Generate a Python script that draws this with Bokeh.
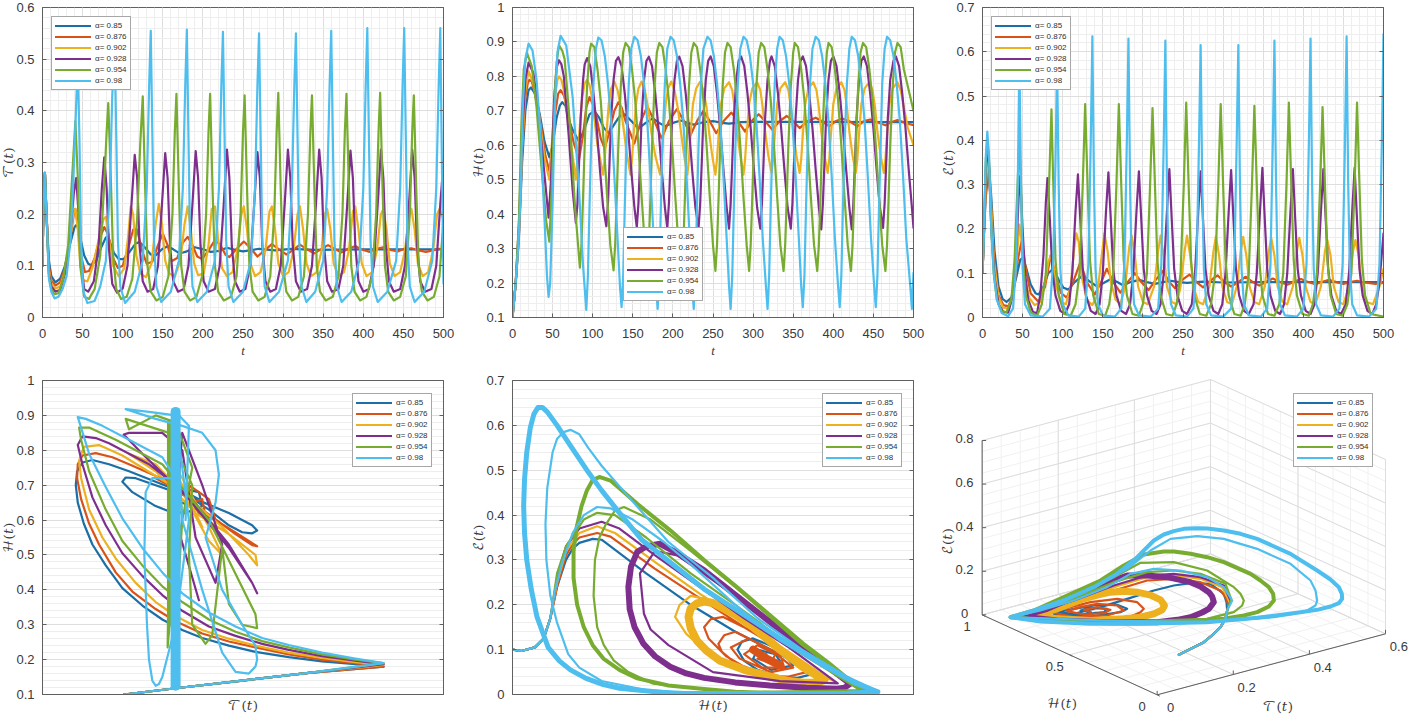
from bokeh.plotting import figure
from bokeh.layouts import column, row
from bokeh.models import FixedTicker, Legend, LegendItem, LinearAxis, Range1d
from bokeh.core.properties import value
from bokeh.embed import file_html
from bokeh.resources import INLINE
import numpy as np

alphas = ["α= 0.85", "α= 0.876", "α= 0.902", "α= 0.928", "α= 0.954", "α= 0.98"]
colors = ["#1b6fa6", "#d95319", "#edb120", "#7e2f8e", "#77ac30", "#4dbeee"]
t_ticks = [0, 50, 100, 150, 200, 250, 300, 350, 400, 450, 500]
T_ticks = [0, 0.1, 0.2, 0.3, 0.4, 0.5, 0.6]
H_ticks = [0.1, 0.2, 0.3, 0.4, 0.5, 0.6, 0.7, 0.8, 0.9, 1]
E_ticks = [0, 0.1, 0.2, 0.3, 0.4, 0.5, 0.6, 0.7]

T_start = [(0,.1),(1,.2),(3,.28),(5,.2)]
T_85 = T_start+[(8,.11),(11,.08),(16,.068),(22,.075),(28,.1),(34,.14),(40,.175),(43,.18),(47,.155),(52,.12),(57,.104),(61,.101),(67,.11),(73,.135),(79,.155),(83,.15),(89,.125),(95,.113),(101,.113),(109,.128),(116,.143),(121,.146),(128,.135),(135,.122),(141,.12),(149,.132),(156,.138),(163,.132),(171,.124),(180,.128),(190,.136),(200,.132),(210,.127),(220,.129),(230,.135),(240,.131),(250,.128),(270,.133),(290,.13),(310,.133),(340,.131),(400,.132),(500,.132)]
T_876 = T_start+[(8,.1),(11,.072),(16,.062),(22,.068),(28,.095),(34,.145),(39,.2),(41,.21),(44,.18),(48,.12),(53,.088),(58,.09),(65,.115),(72,.155),(77,.175),(82,.16),(88,.115),(94,.096),(100,.1),(107,.135),(113,.17),(118,.17),(124,.13),(130,.104),(137,.108),(144,.14),(150,.162),(156,.14),(161,.109),(168,.115),(175,.145),(181,.156),(187,.14),(193,.118),(199,.113),(207,.13),(215,.15),(222,.14),(228,.122),(233,.117),(242,.133),(251,.147),(259,.135),(268,.118),(277,.13),(286,.142),(295,.132),(304,.122),(312,.13),(321,.141),(330,.132),(339,.124),(347,.132),(356,.14),(365,.132),(373,.126),(381,.133),(390,.138),(399,.131),(408,.127),(416,.133),(425,.136),(434,.131),(443,.128),(451,.133),(460,.134),(469,.13),(478,.127),(487,.13),(495,.133),(500,.131)]
T_902 = T_start+[(8,.09),(11,.066),(16,.056),(22,.06),(28,.09),(34,.15),(39,.205),(41,.21),(44,.17),(47,.105),(51,.072),(56,.07),(63,.1),(70,.15),(76,.19),(79,.195),(83,.15),(88,.1),(95,.08),(102,.095),(107,.16),(110,.215),(113,.2),(117,.12),(122,.085),(129,.078),(136,.105),(141,.18),(145,.22),(149,.18),(153,.11),(158,.085),(165,.08),(172,.11),(177,.18),(181,.215),(185,.17),(189,.105),(194,.082),(201,.085),(207,.14),(211,.21),(215,.215),(219,.15),(224,.095),(230,.08),(237,.088),(243,.13),(248,.2),(251,.215),(255,.17),(259,.105),(265,.08),(272,.088),(278,.13),(283,.205),(286,.215),(290,.17),(294,.105),(300,.08),(307,.088),(313,.13),(318,.2),(321,.215),(325,.17),(329,.105),(335,.08),(342,.088),(348,.13),(352,.2),(355,.21),(359,.17),(363,.105),(369,.08),(376,.088),(382,.13),(387,.205),(390,.215),(394,.17),(398,.105),(404,.08),(411,.088),(417,.13),(422,.2),(425,.21),(429,.17),(433,.105),(439,.08),(446,.088),(452,.13),(457,.2),(460,.21),(464,.17),(468,.105),(474,.08),(481,.088),(487,.13),(492,.2),(495,.21),(500,.19)]
T_928 = T_start+[(8,.085),(11,.06),(16,.05),(22,.053),(28,.085),(34,.15),(39,.24),(42,.27),(45,.2),(48,.11),(52,.055),(57,.05),(64,.07),(70,.14),(74,.25),(77,.31),(80,.25),(83,.13),(87,.065),(93,.048),(100,.056),(106,.1),(111,.22),(115,.315),(118,.27),(121,.14),(125,.07),(131,.05),(138,.055),(144,.1),(149,.22),(153,.318),(156,.27),(159,.14),(163,.07),(169,.05),(176,.055),(182,.1),(187,.22),(191,.322),(194,.27),(197,.14),(201,.07),(207,.05),(215,.055),(221,.1),(226,.22),(230,.325),(233,.27),(236,.14),(240,.07),(246,.05),(253,.055),(259,.1),(264,.22),(268,.32),(271,.27),(274,.14),(278,.07),(284,.05),(291,.055),(297,.1),(302,.22),(306,.325),(309,.27),(312,.14),(316,.07),(322,.05),(330,.055),(336,.1),(341,.22),(345,.325),(348,.27),(351,.14),(355,.07),(361,.05),(369,.055),(375,.1),(380,.22),(384,.323),(387,.27),(390,.14),(394,.07),(400,.05),(407,.055),(413,.1),(418,.22),(422,.325),(425,.27),(428,.14),(432,.07),(438,.05),(446,.055),(452,.1),(457,.22),(461,.325),(464,.27),(467,.14),(471,.07),(477,.05),(485,.055),(491,.1),(496,.22),(500,.3)]
T_954 = T_start+[(8,.08),(11,.055),(15,.045),(20,.047),(26,.075),(32,.14),(38,.3),(41,.38),(44,.27),(47,.1),(52,.04),(58,.036),(65,.055),(72,.12),(77,.26),(80,.36),(82,.415),(85,.28),(88,.12),(92,.055),(98,.036),(105,.04),(112,.075),(118,.19),(122,.34),(125,.428),(128,.25),(131,.1),(135,.05),(142,.033),(150,.04),(157,.08),(162,.2),(165,.36),(167,.433),(170,.25),(173,.1),(177,.05),(184,.033),(192,.04),(199,.08),(204,.2),(207,.36),(209,.433),(212,.25),(215,.1),(219,.05),(226,.033),(235,.04),(242,.08),(247,.2),(250,.36),(252,.43),(255,.25),(258,.1),(262,.05),(269,.033),(277,.04),(284,.08),(289,.2),(292,.36),(294,.435),(297,.25),(300,.1),(304,.05),(311,.033),(319,.04),(326,.08),(331,.2),(334,.36),(336,.43),(339,.25),(342,.1),(346,.05),(353,.033),(362,.04),(369,.08),(374,.2),(377,.36),(379,.433),(382,.25),(385,.1),(389,.05),(396,.033),(404,.04),(411,.08),(416,.2),(419,.36),(421,.435),(424,.25),(427,.1),(431,.05),(438,.033),(446,.04),(453,.08),(458,.2),(461,.36),(463,.43),(466,.25),(469,.1),(473,.05),(480,.033),(488,.04),(495,.08),(500,.19)]
T_98 = T_start+[(8,.075),(11,.05),(15,.037),(20,.04),(25,.055),(30,.08),(35,.15),(38,.25),(41,.37),(44,.5),(46,.35),(48,.15),(51,.05),(56,.028),(65,.032),(72,.06),(79,.11),(84,.25),(87,.43),(90,.53),(92,.35),(94,.15),(97,.06),(103,.028),(115,.05),(125,.11),(130,.25),(133,.45),(135,.555),(137,.35),(139,.15),(142,.06),(148,.03),(160,.05),(170,.11),(175,.25),(178,.45),(180,.557),(182,.35),(184,.15),(187,.06),(193,.03),(205,.05),(215,.11),(220,.25),(223,.45),(225,.553),(227,.35),(229,.15),(232,.06),(238,.03),(250,.05),(260,.11),(265,.25),(268,.45),(270,.55),(272,.35),(274,.15),(277,.06),(283,.03),(295,.05),(306,.11),(311,.25),(314,.45),(316,.55),(318,.35),(320,.15),(323,.06),(329,.03),(340,.05),(350,.11),(355,.25),(358,.45),(360,.555),(362,.35),(364,.15),(367,.06),(373,.03),(385,.05),(395,.11),(400,.25),(403,.45),(405,.56),(407,.35),(409,.15),(412,.06),(418,.03),(430,.05),(441,.11),(446,.25),(449,.45),(451,.56),(453,.35),(455,.15),(458,.06),(464,.03),(476,.05),(486,.11),(491,.25),(494,.45),(496,.56),(498,.3),(500,.065)]

H_85 = [(0,.1),(4,.2),(8,.33),(12,.55),(16,.7),(20,.76),(23,.768),(28,.75),(34,.69),(40,.61),(46,.565),(50,.6),(55,.68),(59,.715),(62,.725),(66,.715),(70,.675),(75,.645),(83,.61),(90,.65),(96,.69),(102,.70),(108,.68),(114,.65),(120,.635),(128,.665),(134,.685),(140,.69),(149,.668),(157,.648),(166,.665),(175,.678),(183,.665),(190,.655),(200,.665),(210,.672),(218,.665),(226,.66),(238,.667),(250,.67),(260,.666),(270,.663),(285,.667),(300,.668),(500,.667)]
H_876 = [(0,.1),(4,.2),(8,.34),(12,.58),(16,.74),(19,.78),(21,.79),(24,.785),(27,.76),(34,.68),(41,.57),(46,.525),(50,.6),(53,.69),(57,.75),(60,.76),(64,.745),(68,.71),(76,.61),(83,.56),(88,.63),(92,.71),(96,.74),(100,.72),(104,.69),(110,.62),(115,.59),(122,.65),(127,.7),(132,.725),(136,.71),(141,.67),(152,.605),(160,.67),(168,.713),(177,.67),(186,.62),(195,.67),(205,.705),(214,.67),(222,.63),(230,.67),(238,.70),(246,.67),(254,.635),(263,.67),(273,.695),(281,.67),(290,.64),(298,.67),(307,.69),(315,.67),(324,.645),(333,.67),(342,.685),(350,.67),(358,.65),(368,.67),(378,.68),(386,.67),(395,.655),(403,.67),(411,.678),(420,.67),(430,.655),(438,.67),(446,.675),(455,.667),(465,.658),(472,.667),(480,.673),(490,.665),(500,.658)]
H_902 = [(0,.1),(4,.2),(8,.35),(12,.6),(16,.76),(20,.815),(26,.78),(33,.69),(40,.56),(46,.5),(49,.6),(53,.74),(56,.79),(58,.80),(61,.79),(64,.76),(71,.64),(79,.5),(82,.6),(87,.74),(90,.78),(93,.79),(96,.775),(99,.74),(106,.6),(113,.515),(115,.56),(117,.63),(120,.72),(123,.765),(127,.785),(131,.76),(135,.71),(139,.64),(143,.57),(147,.515),(149,.56),(151,.63),(154,.72),(157,.765),(161,.785),(165,.76),(169,.71),(173,.64),(178,.57),(184,.515),(186,.56),(188,.63),(191,.72),(194,.765),(198,.785),(202,.76),(206,.71),(210,.64),(214,.57),(218,.515),(220,.56),(222,.63),(225,.72),(229,.765),(234,.785),(238,.76),(242,.71),(245,.64),(249,.57),(253,.515),(255,.56),(257,.63),(260,.72),(264,.765),(270,.783),(274,.76),(277,.71),(280,.64),(284,.57),(288,.515),(290,.56),(292,.63),(295,.72),(299,.765),(305,.783),(309,.76),(312,.71),(315,.64),(319,.57),(323,.52),(325,.56),(327,.63),(330,.72),(334,.765),(340,.783),(344,.76),(347,.71),(350,.64),(354,.57),(358,.52),(360,.56),(362,.63),(365,.72),(369,.765),(375,.783),(379,.76),(382,.71),(385,.64),(389,.57),(393,.52),(395,.56),(397,.63),(400,.72),(404,.765),(410,.783),(414,.76),(417,.71),(420,.64),(424,.57),(428,.52),(430,.56),(432,.63),(435,.72),(439,.765),(445,.783),(449,.76),(452,.71),(455,.64),(459,.57),(463,.52),(465,.56),(467,.63),(470,.72),(474,.765),(480,.783),(484,.76),(488,.71),(493,.65),(500,.6)]
H_928 = [(0,.1),(4,.2),(8,.37),(12,.63),(16,.79),(20,.84),(26,.81),(32,.71),(38,.56),(45,.39),(48,.5),(52,.74),(55,.825),(58,.847),(61,.835),(64,.8),(70,.63),(75,.47),(79,.375),(81,.43),(83,.55),(85,.68),(88,.79),(90,.835),(93,.853),(97,.83),(101,.75),(105,.65),(109,.53),(113,.42),(117,.365),(119,.43),(121,.55),(123,.68),(126,.79),(129,.845),(132,.856),(136,.83),(140,.75),(144,.65),(148,.53),(152,.42),(155,.362),(157,.43),(159,.55),(161,.68),(164,.79),(167,.845),(170,.857),(174,.83),(178,.75),(182,.65),(186,.53),(190,.42),(193,.36),(195,.43),(197,.55),(199,.68),(202,.79),(205,.845),(208,.857),(212,.83),(216,.75),(220,.65),(224,.53),(228,.42),(232,.36),(234,.43),(236,.55),(238,.68),(241,.79),(244,.845),(247,.858),(251,.83),(255,.75),(259,.65),(263,.53),(267,.42),(270,.358),(272,.43),(274,.55),(276,.68),(279,.79),(282,.845),(285,.858),(289,.83),(293,.75),(297,.65),(301,.53),(305,.42),(309,.358),(311,.43),(313,.55),(315,.68),(318,.79),(321,.845),(323,.858),(327,.83),(331,.75),(335,.65),(339,.53),(343,.42),(347,.358),(349,.43),(351,.55),(353,.68),(356,.79),(359,.845),(362,.858),(366,.83),(370,.75),(374,.65),(378,.53),(382,.42),(385,.356),(387,.43),(389,.55),(391,.68),(394,.79),(397,.845),(400,.858),(404,.83),(408,.75),(412,.65),(416,.53),(420,.42),(423,.356),(425,.43),(427,.55),(429,.68),(432,.79),(435,.845),(438,.858),(442,.83),(446,.75),(450,.65),(454,.53),(458,.42),(462,.36),(464,.43),(466,.55),(468,.68),(471,.79),(475,.845),(478,.858),(482,.83),(486,.75),(490,.65),(494,.53),(498,.42),(500,.36)]
H_954 = [(0,.1),(4,.2),(8,.38),(11,.65),(14,.82),(18,.868),(24,.83),(30,.71),(36,.54),(42,.38),(46,.32),(49,.48),(53,.76),(55,.84),(58,.89),(62,.875),(65,.85),(72,.65),(78,.42),(84,.245),(86,.31),(88,.45),(90,.6),(93,.77),(96,.87),(98,.895),(102,.885),(106,.82),(110,.73),(114,.6),(118,.45),(122,.31),(126,.237),(128,.31),(130,.45),(132,.6),(135,.77),(138,.87),(141,.897),(145,.885),(149,.82),(153,.73),(157,.6),(161,.45),(165,.31),(168,.235),(170,.31),(172,.45),(174,.6),(177,.77),(180,.87),(183,.897),(187,.885),(191,.82),(195,.73),(199,.6),(203,.45),(207,.31),(211,.235),(213,.31),(215,.45),(217,.6),(220,.77),(223,.87),(226,.897),(230,.885),(234,.82),(238,.73),(242,.6),(246,.45),(250,.31),(253,.235),(255,.31),(257,.45),(259,.6),(262,.77),(265,.87),(268,.897),(272,.885),(276,.82),(280,.73),(284,.6),(288,.45),(292,.31),(295,.235),(297,.31),(299,.45),(301,.6),(304,.77),(307,.87),(310,.897),(314,.885),(318,.82),(322,.73),(326,.6),(330,.45),(334,.31),(338,.235),(340,.31),(342,.45),(344,.6),(347,.77),(350,.87),(352,.897),(356,.885),(360,.82),(364,.73),(368,.6),(372,.45),(376,.31),(380,.235),(382,.31),(384,.45),(386,.6),(389,.77),(392,.87),(394,.897),(398,.885),(402,.82),(406,.73),(410,.6),(414,.45),(418,.31),(422,.235),(424,.31),(426,.45),(428,.6),(431,.77),(434,.87),(437,.897),(441,.885),(445,.82),(449,.73),(453,.6),(457,.45),(461,.31),(465,.235),(467,.31),(469,.45),(471,.6),(474,.77),(477,.87),(480,.897),(484,.885),(488,.82),(492,.78),(496,.74),(500,.70)]
H_98 = [(0,.1),(3,.17),(7,.3),(10,.45),(13,.72),(16,.85),(20,.895),(25,.875),(30,.79),(35,.63),(40,.38),(43,.22),(45,.16),(47,.2),(50,.43),(53,.72),(56,.87),(60,.918),(67,.89),(75,.74),(83,.47),(88,.25),(92,.122),(94,.22),(96,.42),(98,.6),(101,.78),(104,.88),(107,.913),(111,.905),(115,.86),(119,.78),(123,.67),(127,.51),(131,.33),(134,.19),(136,.13),(138,.22),(140,.42),(142,.6),(145,.78),(148,.88),(152,.915),(156,.905),(160,.86),(164,.78),(168,.67),(172,.51),(176,.33),(179,.19),(181,.125),(183,.22),(185,.42),(187,.6),(190,.78),(193,.88),(197,.915),(201,.905),(205,.86),(209,.78),(213,.67),(217,.51),(221,.33),(224,.19),(226,.125),(228,.22),(230,.42),(232,.6),(235,.78),(238,.88),(243,.915),(247,.905),(251,.86),(255,.78),(259,.67),(263,.51),(267,.33),(270,.19),(272,.125),(274,.22),(276,.42),(278,.6),(281,.78),(284,.88),(288,.915),(292,.905),(296,.86),(300,.78),(304,.67),(308,.51),(312,.33),(316,.19),(318,.125),(320,.22),(322,.42),(324,.6),(327,.78),(330,.88),(333,.915),(337,.905),(341,.86),(345,.78),(349,.67),(353,.51),(357,.33),(360,.19),(362,.13),(364,.22),(366,.42),(368,.6),(371,.78),(374,.88),(378,.915),(382,.905),(386,.86),(390,.78),(394,.67),(398,.51),(402,.33),(406,.19),(408,.13),(410,.22),(412,.42),(414,.6),(417,.78),(420,.88),(423,.915),(427,.905),(431,.86),(435,.78),(439,.67),(443,.51),(447,.33),(451,.19),(453,.13),(455,.22),(457,.42),(459,.6),(461,.78),(464,.88),(467,.915),(471,.905),(475,.86),(479,.78),(483,.67),(487,.51),(491,.33),(496,.19),(498,.125),(500,.23)]

E_85 = [(0,.1),(2,.2),(4,.27),(8,.345),(11,.27),(15,.15),(20,.07),(25,.042),(30,.035),(36,.045),(42,.09),(47,.13),(50,.135),(54,.115),(60,.075),(66,.055),(70,.052),(76,.07),(82,.1),(88,.11),(95,.085),(101,.067),(107,.063),(115,.08),(125,.095),(133,.082),(143,.07),(151,.078),(160,.087),(168,.08),(175,.073),(185,.08),(195,.085),(205,.08),(215,.076),(225,.08),(235,.083),(245,.08),(255,.078),(275,.081),(300,.079),(350,.08),(500,.08)]
E_876 = [(0,.1),(2,.2),(4,.28),(7,.34),(10,.27),(14,.14),(20,.05),(26,.028),(32,.025),(38,.05),(44,.13),(49,.175),(54,.11),(60,.055),(70,.035),(78,.07),(85,.14),(92,.09),(98,.055),(105,.045),(113,.08),(122,.125),(130,.08),(140,.052),(148,.08),(155,.11),(163,.08),(172,.056),(181,.08),(190,.1),(198,.08),(207,.062),(216,.085),(225,.105),(233,.08),(240,.066),(249,.085),(258,.097),(267,.08),(275,.068),(284,.083),(293,.095),(302,.08),(310,.07),(319,.08),(328,.092),(337,.08),(345,.072),(353,.08),(362,.088),(371,.08),(380,.074),(388,.08),(397,.087),(406,.08),(415,.075),(423,.08),(432,.085),(441,.08),(450,.076),(458,.08),(467,.083),(476,.079),(490,.076),(500,.078)]
E_902 = [(0,.1),(2,.2),(4,.3),(7,.36),(10,.28),(14,.13),(20,.045),(26,.022),(32,.02),(38,.05),(43,.14),(46,.21),(49,.17),(52,.1),(58,.045),(65,.028),(72,.035),(78,.08),(82,.125),(85,.14),(88,.12),(92,.07),(98,.035),(104,.03),(110,.07),(114,.15),(117,.19),(120,.17),(124,.09),(130,.04),(137,.028),(143,.05),(148,.13),(152,.19),(156,.15),(160,.08),(166,.04),(172,.03),(178,.07),(183,.16),(186,.185),(190,.14),(194,.07),(200,.035),(206,.03),(214,.07),(219,.15),(222,.185),(226,.14),(230,.07),(236,.035),(242,.03),(247,.07),(252,.15),(255,.185),(259,.14),(263,.07),(269,.035),(275,.03),(283,.07),(288,.15),(291,.183),(295,.14),(299,.07),(305,.035),(311,.03),(317,.07),(322,.15),(325,.182),(329,.14),(333,.07),(339,.035),(345,.03),(352,.07),(357,.15),(360,.18),(364,.14),(368,.07),(374,.035),(380,.03),(387,.07),(392,.15),(395,.18),(399,.14),(403,.07),(409,.035),(415,.03),(422,.07),(427,.15),(430,.175),(434,.14),(438,.07),(444,.035),(450,.03),(457,.07),(462,.15),(465,.175),(469,.14),(473,.07),(479,.035),(487,.03),(495,.07),(500,.11)]
E_928 = [(0,.1),(2,.2),(4,.33),(6,.38),(8,.35),(11,.2),(15,.09),(20,.03),(26,.013),(32,.011),(38,.05),(42,.14),(45,.27),(47,.32),(50,.2),(53,.1),(57,.04),(63,.012),(68,.01),(72,.05),(76,.14),(79,.26),(81,.315),(84,.22),(87,.11),(91,.05),(97,.015),(103,.008),(108,.03),(112,.1),(116,.24),(119,.323),(122,.22),(125,.11),(129,.05),(135,.015),(141,.008),(146,.03),(150,.1),(154,.24),(157,.328),(160,.22),(163,.11),(167,.05),(173,.015),(179,.008),(184,.03),(188,.1),(192,.24),(195,.33),(198,.22),(201,.11),(205,.05),(211,.015),(217,.008),(222,.03),(226,.1),(230,.24),(233,.335),(236,.22),(239,.11),(243,.05),(249,.015),(255,.008),(261,.03),(265,.1),(269,.24),(272,.33),(275,.22),(278,.11),(282,.05),(288,.015),(294,.008),(299,.03),(303,.1),(307,.24),(310,.333),(313,.22),(316,.11),(320,.05),(326,.015),(332,.008),(338,.03),(342,.1),(346,.24),(349,.338),(352,.22),(355,.11),(359,.05),(365,.015),(371,.008),(376,.03),(380,.1),(384,.24),(387,.335),(390,.22),(393,.11),(397,.05),(403,.015),(409,.008),(414,.03),(418,.1),(422,.24),(425,.335),(428,.22),(431,.11),(435,.05),(441,.015),(447,.008),(453,.03),(457,.1),(461,.24),(464,.338),(467,.22),(470,.11),(474,.05),(480,.015),(486,.008),(491,.03),(495,.08),(500,.19)]
E_954 = [(0,.1),(2,.2),(4,.35),(6,.40),(8,.36),(11,.2),(14,.1),(18,.04),(24,.015),(30,.012),(36,.04),(40,.13),(43,.27),(46,.40),(48,.3),(50,.14),(54,.05),(60,.012),(68,.004),(74,.03),(79,.1),(83,.3),(86,.47),(88,.32),(91,.13),(95,.05),(102,.008),(110,.004),(116,.03),(121,.1),(125,.3),(128,.482),(131,.3),(134,.13),(138,.05),(145,.008),(153,.004),(158,.03),(163,.1),(167,.3),(170,.482),(173,.3),(176,.13),(180,.05),(187,.008),(195,.004),(200,.03),(205,.1),(209,.3),(212,.473),(215,.3),(218,.13),(222,.05),(229,.008),(237,.004),(242,.03),(247,.1),(251,.3),(254,.485),(257,.3),(260,.13),(264,.05),(271,.008),(279,.004),(285,.03),(290,.1),(294,.3),(297,.482),(300,.3),(303,.13),(307,.05),(314,.008),(322,.004),(327,.03),(332,.1),(336,.3),(339,.478),(342,.3),(345,.13),(349,.05),(356,.008),(364,.004),(370,.03),(375,.1),(379,.3),(382,.485),(385,.3),(388,.13),(392,.05),(399,.008),(407,.004),(412,.03),(417,.1),(421,.3),(424,.475),(427,.3),(430,.13),(434,.05),(441,.008),(449,.004),(455,.03),(460,.1),(464,.3),(467,.485),(470,.3),(473,.13),(477,.05),(484,.008),(500,.002)]
E_98 = [(0,.1),(2,.2),(4,.36),(6,.42),(8,.37),(11,.2),(14,.1),(18,.04),(24,.01),(32,.003),(38,.02),(42,.12),(44,.3),(46,.59),(48,.3),(50,.11),(53,.03),(60,.005),(75,.002),(84,.02),(88,.12),(91,.35),(93,.58),(95,.3),(97,.11),(100,.03),(107,.005),(120,.002),(128,.02),(132,.12),(135,.4),(137,.635),(139,.3),(141,.11),(144,.03),(150,.005),(165,.002),(173,.02),(177,.12),(180,.4),(182,.63),(184,.3),(186,.11),(189,.03),(195,.005),(210,.002),(219,.02),(223,.12),(226,.4),(228,.625),(230,.3),(232,.11),(235,.03),(241,.005),(255,.002),(263,.02),(267,.12),(270,.4),(272,.615),(274,.3),(276,.11),(279,.03),(285,.005),(300,.002),(310,.02),(314,.12),(317,.4),(319,.615),(321,.3),(323,.11),(326,.03),(332,.005),(347,.002),(355,.02),(359,.12),(362,.4),(364,.625),(366,.3),(368,.11),(371,.03),(377,.005),(392,.002),(400,.02),(404,.12),(407,.4),(409,.63),(411,.3),(413,.11),(416,.03),(422,.005),(437,.002),(445,.02),(449,.12),(452,.4),(454,.635),(456,.3),(458,.11),(461,.03),(467,.005),(482,.002),(491,.02),(495,.12),(498,.4),(500,.64)]

# Panel 4: T(t) against H(t)
P4_in = [(.1225,.10),(.2,.118),(.3,.14),(.4,.162)]
P4_85 = P4_in+[(.5125,.18),(.47,.187),(.42,.195),(.37,.207),(.32,.222),(.28,.24),(.24,.262),(.21,.285),(.18,.315),(.15,.355),(.12,.405),(.095,.47),(.075,.53),(.062,.59),(.053,.65),(.05,.70),(.052,.74),(.06,.765),(.075,.772),(.1,.76),(.13,.74),(.17,.71),(.21,.68),(.25,.63),(.28,.585),(.3,.565),(.315,.562),(.3225,.57),(.315,.585),(.28,.62),(.23,.66),(.17,.70),(.14,.72),(.125,.722),(.12,.71),(.135,.68),(.17,.64),(.19,.625),(.215,.62),(.24,.64),(.235,.68),(.21,.69),(.2,.66),(.22,.64),(.235,.66),(.225,.67)]
P4_876 = P4_in+[(.5125,.18),(.47,.19),(.42,.2),(.37,.215),(.32,.235),(.28,.252),(.24,.275),(.2,.31),(.17,.345),(.135,.395),(.11,.45),(.085,.53),(.07,.59),(.058,.66),(.052,.72),(.053,.76),(.06,.785),(.08,.792),(.105,.78),(.13,.76),(.19,.71),(.24,.63),(.29,.56),(.315,.528),(.3225,.525),(.31,.54),(.26,.6),(.2,.69),(.17,.72),(.2,.72),(.235,.62),(.26,.6),(.25,.66),(.22,.7),(.225,.62),(.245,.61),(.24,.66),(.225,.65)]
P4_902 = P4_in+[(.5125,.185),(.47,.193),(.42,.205),(.37,.22),(.32,.24),(.28,.26),(.24,.285),(.2,.325),(.17,.365),(.14,.42),(.11,.49),(.09,.55),(.07,.63),(.058,.72),(.055,.77),(.062,.81),(.085,.815),(.12,.785),(.15,.75),(.21,.68),(.27,.58),(.31,.5),(.3225,.47),(.32,.5),(.28,.56),(.23,.62),(.17,.74),(.13,.79),(.17,.76),(.21,.68),(.25,.54),(.27,.5),(.25,.58),(.21,.72),(.19,.78),(.21,.7),(.24,.58)]
P4_928 = P4_in+[(.5125,.187),(.47,.197),(.42,.21),(.37,.228),(.33,.245),(.29,.268),(.25,.295),(.21,.34),(.18,.385),(.15,.44),(.12,.505),(.095,.585),(.075,.665),(.06,.76),(.053,.815),(.06,.84),(.08,.835),(.1,.82),(.16,.76),(.22,.67),(.28,.53),(.315,.42),(.3225,.39),(.315,.42),(.28,.52),(.22,.66),(.15,.79),(.122,.845),(.13,.85),(.18,.85),(.21,.8),(.23,.55),(.26,.42),(.27,.53),(.24,.7),(.21,.85),(.2,.6),(.235,.37)]
P4_954 = P4_in+[(.5125,.19),(.47,.2),(.42,.215),(.37,.235),(.33,.253),(.29,.28),(.25,.315),(.21,.365),(.18,.41),(.15,.47),(.12,.54),(.095,.63),(.07,.74),(.058,.83),(.055,.865),(.07,.865),(.11,.83),(.18,.76),(.25,.6),(.32,.33),(.3225,.29),(.30,.3),(.28,.36),(.27,.52),(.255,.27),(.245,.245),(.225,.3),(.22,.5),(.225,.7),(.19,.85),(.125,.89),(.13,.86),(.17,.9),(.2,.88),(.225,.75),(.2,.5),(.188,.235),(.19,.5),(.2,.9),(.21,.6),(.2,.3)]
P4_98 = P4_in+[(.5125,.19),(.47,.203),(.42,.22),(.37,.242),(.33,.262),(.29,.295),(.25,.335),(.21,.39),(.18,.45),(.15,.52),(.12,.605),(.095,.695),(.07,.79),(.058,.865),(.053,.895),(.065,.89),(.09,.87),(.13,.83),(.18,.78),(.2,.72),(.165,.72),(.155,.68),(.153,.5),(.157,.3),(.16,.2),(.165,.14),(.17,.125),(.175,.13),(.18,.15),(.2,.3),(.22,.6),(.2,.9),(.16,.91),(.125,.918),(.17,.89),(.21,.87),(.24,.85),(.26,.8),(.265,.73),(.26,.65),(.245,.55),(.27,.4),(.3,.3),(.32,.24),(.3225,.2),(.32,.18),(.31,.16),(.29,.165),(.27,.22),(.24,.4),(.21,.6),(.2,.91),(.22,.87),(.215,.6)]
P4_98_band = [(.2,.125),(.2,.91)]
P4_954_band = [(.19,.3),(.19,.88)]

# Panel 5: H(t) against E(t)
P5_in = [(.1,.1),(.12,.097),(.15,.105),(.17,.125),(.185,.17)]
P5_85 = P5_in+[(.2,.24),(.22,.3),(.235,.325),(.25,.338),(.28,.347),(.30,.345),(.4,.27),(.5,.2),(.6,.14),(.7,.09),(.75,.06),(.77,.045),(.74,.037),(.7,.04),(.65,.055),(.62,.075),(.605,.1),(.615,.118),(.64,.125),(.7,.1),(.73,.065),(.68,.055),(.64,.08),(.65,.1),(.69,.09),(.7,.075),(.675,.075),(.67,.08)]
P5_876 = P5_in+[(.2,.24),(.22,.31),(.235,.335),(.25,.35),(.29,.36),(.32,.352),(.42,.28),(.52,.215),(.62,.15),(.72,.09),(.77,.055),(.79,.035),(.75,.028),(.7,.035),(.64,.05),(.58,.085),(.54,.125),(.53,.15),(.545,.168),(.573,.173),(.64,.14),(.74,.075),(.76,.05),(.72,.04),(.68,.04),(.6,.07),(.57,.095),(.562,.113),(.575,.132),(.6,.14),(.68,.1),(.73,.06),(.68,.05),(.61,.08),(.59,.105),(.63,.125),(.7,.09),(.71,.06),(.66,.06),(.62,.09),(.65,.11),(.69,.09),(.68,.07),(.65,.08),(.67,.09)]
P5_876_band = [(.64,.1),(.67,.08),(.7,.065)]
P5_902 = P5_in+[(.2,.25),(.22,.32),(.25,.36),(.29,.375),(.33,.36),(.42,.295),(.52,.225),(.62,.16),(.72,.095),(.81,.035),(.75,.025),(.62,.05),(.53,.1),(.49,.135),(.465,.173),(.475,.2),(.5,.22),(.55,.21),(.64,.15),(.75,.07),(.82,.03)]
P5_902_band = [(.8,.032),(.78,.026),(.753,.026),(.72,.03),(.678,.04),(.62,.055),(.566,.075),(.535,.098),(.514,.12),(.5,.148),(.495,.173),(.5,.192),(.514,.203),(.53,.207),(.55,.204),(.6,.178),(.64,.15),(.7,.1),(.753,.06),(.8,.032)]
P5_928 = P5_in+[(.2,.26),(.22,.33),(.25,.37),(.3,.385),(.34,.37),(.42,.31),(.52,.24),(.62,.17),(.72,.105),(.83,.025),(.7,.03),(.55,.05),(.45,.11),(.41,.145),(.395,.18),(.386,.27),(.42,.32),(.47,.31),(.6,.22)]
P5_928_band = [(.858,.024),(.845,.015),(.828,.013),(.76,.015),(.678,.02),(.6,.027),(.53,.037),(.49,.047),(.454,.062),(.42,.085),(.394,.113),(.374,.15),(.363,.19),(.36,.24),(.366,.285),(.38,.318),(.4,.33),(.431,.336),(.47,.315),(.53,.277),(.603,.22),(.68,.16),(.753,.106),(.81,.06),(.858,.024)]
P5_954 = P5_in+[(.2,.27),(.22,.33),(.26,.39),(.29,.405),(.33,.4),(.4,.35),(.5,.27),(.6,.2),(.75,.09),(.88,.01),(.6,.005),(.416,.024),(.36,.05),(.327,.076),(.305,.11),(.29,.15),(.282,.22),(.285,.3),(.295,.35),(.31,.38),(.33,.41),(.35,.418),(.41,.39),(.5,.32),(.6,.24),(.75,.11),(.88,.015)]
P5_954_band = [(.895,.006),(.8,.003),(.7,.003),(.6,.006),(.53,.012),(.45,.02),(.38,.036),(.34,.055),(.304,.08),(.28,.11),(.26,.15),(.245,.2),(.237,.26),(.237,.32),(.244,.373),(.255,.42),(.267,.455),(.28,.478),(.295,.485),(.32,.477),(.38,.425),(.454,.366),(.53,.3),(.603,.24),(.68,.175),(.753,.113),(.81,.07),(.865,.025),(.895,.006)]
P5_98 = P5_in+[(.195,.23),(.21,.29),(.235,.36),(.26,.4),(.29,.418),(.32,.415),(.37,.39),(.44,.34),(.5,.29),(.6,.2),(.7,.12),(.8,.06),(.88,.02),(.92,.007),(.9,.003),(.75,.002),(.55,.002),(.4,.01),(.3,.03),(.25,.06),(.225,.09),(.2,.16),(.185,.22),(.176,.3),(.174,.38),(.178,.46),(.19,.54),(.2,.57),(.215,.585),(.23,.59),(.25,.58),(.27,.55),(.3,.51),(.37,.43),(.45,.34),(.55,.26),(.65,.17),(.75,.1),(.85,.04),(.915,.01)]
P5_98_band = [(.92,.006),(.85,.003),(.75,.002),(.6,.002),(.454,.003),(.38,.01),(.34,.014),(.304,.022),(.265,.036),(.23,.055),(.205,.075),(.18,.105),(.155,.173),(.142,.235),(.132,.3),(.127,.36),(.125,.42),(.127,.48),(.132,.54),(.14,.595),(.148,.625),(.157,.64),(.167,.64),(.178,.63),(.2,.6),(.23,.555),(.267,.5),(.3,.455),(.34,.405),(.39,.345),(.46,.29),(.53,.235),(.6,.19),(.7,.125),(.8,.065),(.87,.025),(.92,.006)]

# Panel 6: positions of the trajectories after the 3-D view is applied
V_in = [(715,883),(790,845),(820,820),(840,800),(855,775),(860,750)]
V_85 = V_in+[(858,725),(850,700),(810,670),(750,668),(700,675),(640,690),(560,715),(480,740),(380,765),(340,760),(450,768),(540,755),(560,745),(530,733),(470,733),(400,745),(350,755),(420,762),(490,755),(500,745),(450,742),(420,750),(450,755)]
V_876 = V_in+[(865,735),(855,710),(840,690),(780,665),(700,655),(620,660),(520,690),(400,730),(310,762),(400,775),(500,775),(570,768),(600,755),(610,745),(590,725),(530,715),(450,725),(370,745),(330,755),(400,770),(500,765),(550,750),(530,735),(470,730),(420,740),(380,752),(430,762),(490,758),(510,748),(470,740),(430,748),(450,754)]
V_902 = V_in+[(868,725),(845,680),(780,655),(700,645),(620,650),(520,680),(400,725),(285,763)]
V_902_band = [(280,763),(350,775),(450,780),(550,775),(600,770),(640,760),(665,748),(672,735),(660,718),(630,704),(590,695),(550,692),(510,695),(470,704),(430,715),(350,745),(280,763)]
V_928 = V_in+[(870,720),(850,675),(780,650),(700,640),(620,645),(520,675),(400,720),(240,768)]
V_928_band = [(240,768),(350,780),(500,785),(650,785),(710,778),(750,770),(785,756),(805,745),(820,725),(815,708),(805,695),(780,678),(750,665),(680,650),(620,645),(560,645),(490,670),(400,710),(320,745),(240,768)]
V_954 = V_in+[(872,715),(855,670),(780,640),(700,630),(620,635),(520,665),(400,715),(215,770),(500,785),(800,775),(880,755),(905,735),(910,720),(900,700),(880,680),(800,630),(700,605),(600,607),(520,650),(400,710),(215,770)]
V_954_band = [(210,770),(350,783),(500,787),(700,785),(850,775),(910,765),(950,755),(985,738),(1000,720),(998,700),(985,680),(960,660),(930,640),(850,605),(800,590),(750,580),(700,573),(670,573),(610,582),(550,615),(480,660),(380,705),(280,750),(210,770)]
V_98 = V_in+[(875,720),(850,680),(800,650),(720,630),(640,625),(570,640),(500,680),(400,720),(300,750),(210,770),(500,780),(800,785),(1000,770),(1060,760),(1100,750),(1125,735),(1130,720),(1125,690),(1110,660),(1050,610),(950,565),(850,535),(770,527),(690,535),(630,570),(560,625),(460,680),(300,745),(210,770)]
V_98_band = [(210,770),(300,783),(450,790),(600,790),(800,785),(950,772),(1080,755),(1130,748),(1170,738),(1195,728),(1205,715),(1204,700),(1195,680),(1170,657),(1130,630),(1050,580),(950,535),(900,520),(850,510),(800,504),(770,503),(730,505),(700,512),(670,522),(640,540),(590,590),(530,640),(460,680),(370,720),(280,750),(210,770)]

V_T_ticks = [0, 0.2, 0.4, 0.6]
V_H_ticks = [0, 0.5, 1]
V_E_ticks = [0, 0.2, 0.4, 0.6, 0.8]

TICK_FONT = "Liberation Sans"
MATH_FONT = "DejaVu Math TeX Gyre, DejaVu Serif, serif"
T_LABEL, H_LABEL, E_LABEL = "𝒯(𝑡)", "ℋ(𝑡)", "ℰ(𝑡)"
LW = 2.2


def xy(pairs):
    return [a for a, _ in pairs], [b for _, b in pairs]


def add_legend(p, rs, loc):
    leg = Legend(items=[LegendItem(label=a, renderers=[r]) for a, r in zip(alphas, rs)],
                 location=loc, spacing=0, padding=3, margin=0, glyph_width=36, glyph_height=11,
                 label_height=11, label_standoff=4, label_text_font=TICK_FONT,
                 label_text_font_size="8px", label_text_color="#303030",
                 border_line_color="#505050", border_line_width=1, background_fill_alpha=1)
    p.add_layout(leg)


def make_panel(series, xr, yr, xticks, yticks, ylabel, xlabel, w, h, borders, loc, xminor=None, yminor=None, labelled_x=True):
    p = figure(width=w, height=h, x_range=Range1d(*xr), y_range=Range1d(*yr), output_backend="svg",
               toolbar_location=None, min_border_left=borders[0], min_border_right=borders[1],
               min_border_top=borders[2], min_border_bottom=borders[3], outline_line_color="#606060",
               outline_line_width=1, background_fill_color="white", frame_align=False)
    rs = []
    for i, group in enumerate(series):
        for j, (pairs, lw) in enumerate(group):
            xs, ys = xy(pairs)
            r = p.line(xs, ys, line_color=colors[i], line_width=lw, line_join="round", line_cap="round")
            if j == 0:
                rs.append(r)
    for ax, ticks, minor in ((p.xaxis[0], xticks, xminor), (p.yaxis[0], yticks, yminor)):
        ax.ticker = FixedTicker(ticks=ticks, minor_ticks=minor if minor is not None else [])
        ax.major_label_overrides = {v: f"{v:g}" for v in ticks}
        ax.major_label_text_font = TICK_FONT
        ax.major_label_text_font_size = "13px"
        ax.major_label_text_color = "#3a3a3a"
        ax.major_tick_in, ax.major_tick_out = 4, 0
        ax.minor_tick_line_color = None
        ax.axis_line_color = "#606060"
        ax.major_tick_line_color = "#606060"
    y_ax = p.yaxis[0]
    y_ax.major_label_standoff = 4
    y_ax.axis_label = ylabel
    y_ax.axis_label_standoff = -3
    y_ax.axis_label_text_font = MATH_FONT
    y_ax.axis_label_text_font_style = "normal"
    y_ax.axis_label_text_font_size = "13px"
    y_ax.axis_label_text_color = "#3a3a3a"
    p.xaxis[0].major_label_standoff = 7
    x_ax = p.xaxis[0]
    x_ax.axis_label = xlabel
    x_ax.axis_label_standoff = 2
    x_ax.axis_label_text_color = "#3a3a3a"
    x_ax.axis_label_text_font_size = "13px"
    if labelled_x:
        x_ax.axis_label_text_font = "Liberation Serif"
        x_ax.axis_label_text_font_style = "italic"
    else:
        x_ax.axis_label_text_font = MATH_FONT
        x_ax.axis_label_text_font_style = "normal"
        x_ax.ticker = FixedTicker(ticks=[])
        x_ax.axis_label_standoff = 5
    p.xgrid[0].ticker = FixedTicker(ticks=xticks, minor_ticks=xminor if xminor is not None else [])
    p.ygrid[0].ticker = FixedTicker(ticks=yticks, minor_ticks=yminor if yminor is not None else [])
    for g in (p.xgrid[0], p.ygrid[0]):
        g.grid_line_color = "#dedede"
        g.grid_line_width = 1
        g.minor_grid_line_color = "#eeeeee"
        g.minor_grid_line_width = 1
    if not labelled_x:
        p.xgrid[0].grid_line_color = None
        p.xgrid[0].minor_grid_line_color = None
    right = LinearAxis(ticker=FixedTicker(ticks=yticks), major_label_overrides={v: "" for v in yticks},
                       major_label_standoff=0, major_tick_in=4, major_tick_out=0, minor_tick_line_color=None,
                       axis_line_color="#606060", major_tick_line_color="#606060")
    p.add_layout(right, "right")
    add_legend(p, rs, loc)
    return p


def lines(*groups):
    return [[(g, LW)] for g in groups]


minor_t = list(np.arange(0, 501, 10))
minor_T = list(np.round(np.arange(0, .601, .02), 3))
minor_H = list(np.round(np.arange(.1, 1.001, .02), 3))
minor_E = list(np.round(np.arange(0, .701, .02), 3))

W, H, HB = 470, 360, 357
top_b = (42, 27, 7, 41)
top_b3 = (42, 28, 7, 41)
bot_b = (42, 27, 20, 23)

p1 = make_panel(lines(T_85, T_876, T_902, T_928, T_954, T_98), (0, 500), (0, .6), t_ticks, T_ticks, T_LABEL, "t",
                W, H, top_b, (9, 227), minor_t, minor_T)
p2 = make_panel(lines(H_85, H_876, H_902, H_928, H_954, H_98), (0, 500), (.1, 1), t_ticks, H_ticks, H_LABEL, "t",
                W, H, top_b, (111, 16), minor_t, minor_H)
p3 = make_panel(lines(E_85, E_876, E_902, E_928, E_954, E_98), (0, 500), (0, .7), t_ticks, E_ticks, E_LABEL, "t",
                471, H, top_b3, (9, 227), minor_t, minor_E)

p4_series = [[(P4_85, LW)], [(P4_876, LW)], [(P4_902, LW)], [(P4_928, LW)],
             [(P4_954, LW), (P4_954_band, 4)], [(P4_98, LW), (P4_98_band, 10)]]
p4 = make_panel(p4_series, (0, .6025), (.1, 1), [], H_ticks, H_LABEL, T_LABEL, W, HB, bot_b, (310, 227),
                None, minor_H, labelled_x=False)
p5_series = [[(P5_85, LW)], [(P5_876, LW), (P5_876_band, 8)], [(P5_902, LW), (P5_902_band, 8)],
             [(P5_928, LW), (P5_928_band, 6)], [(P5_954, LW), (P5_954_band, 4)], [(P5_98, LW), (P5_98_band, 5)]]
p5 = make_panel(p5_series, (.1, 1), (0, .7), [], E_ticks, E_LABEL, H_LABEL, W, HB, bot_b, (310, 227),
                None, minor_E, labelled_x=False)

# Panel 6: a 3-D box, projected on to the page
O = np.array([650.0, 1003.0])
VT = np.array([685.0, -183.0]) / 0.6
VH = np.array([-525.0, -240.0])
VE = np.array([0.0, -523.0]) / 0.8


def proj(t, h, e):
    return O + VT * t + VH * h + VE * e


p6 = figure(width=471, height=HB, x_range=Range1d(0, 1413), y_range=Range1d(1071, 0), output_backend="svg",
            toolbar_location=None, x_axis_type=None, y_axis_type=None, min_border=0, outline_line_color=None,
            frame_align=False)
p6.grid.visible = False


def grid_seg(a, b, col):
    p6.segment([q[0] for q in a], [q[1] for q in a], [q[0] for q in b], [q[1] for q in b], line_color=col, line_width=1)


for step, col in ((0.05, "#f1f1f1"), (None, "#dddddd")):
    ts = np.arange(0, .6001, step) if step else np.array(V_T_ticks)
    hs = np.arange(0, 1.0001, step * 2) if step else np.array(V_H_ticks)
    es = np.arange(0, .8001, step) if step else np.array(V_E_ticks)
    grid_seg([proj(t, 0, 0) for t in ts], [proj(t, 1, 0) for t in ts], col)
    grid_seg([proj(0, h, 0) for h in hs], [proj(.6, h, 0) for h in hs], col)
    grid_seg([proj(t, 1, 0) for t in ts], [proj(t, 1, .8) for t in ts], col)
    grid_seg([proj(.6, h, 0) for h in hs], [proj(.6, h, .8) for h in hs], col)
    grid_seg([proj(0, 1, e) for e in es], [proj(.6, 1, e) for e in es], col)
    grid_seg([proj(.6, 0, e) for e in es], [proj(.6, 1, e) for e in es], col)
grid_seg([proj(0, 0, 0), proj(0, 0, 0), proj(0, 1, 0)], [proj(.6, 0, 0), proj(0, 1, 0), proj(0, 1, .8)], "#606060")

for ticks, fn, off, d in ((V_T_ticks, lambda v: proj(v, 0, 0), (40, 39), (0, -12)),
                          (V_H_ticks, lambda v: proj(0, v, 0), (-45, 36), (8, 4)),
                          (V_E_ticks, lambda v: proj(0, 1, v), (-53, -5), (12, 0))):
    pts = [fn(v) for v in ticks]
    p6.text([q[0] + off[0] for q in pts], [q[1] + off[1] for q in pts], text=[f"{v:g}" for v in ticks],
            text_font=value(TICK_FONT), text_font_size="13px", text_color="#3a3a3a", text_align="center",
            text_baseline="middle")
    grid_seg(pts, [q + np.array(d) for q in pts], "#606060")

p6.text([proj(.3, 0, 0)[0] + 20, proj(0, .5, 0)[0] - 22, proj(0, 1, .3)[0] - 100],
        [proj(.3, 0, 0)[1] + 130, proj(0, .5, 0)[1] + 150, proj(0, 1, .3)[1] - 25],
        text=[T_LABEL, H_LABEL, E_LABEL], text_font=value(MATH_FONT), text_font_size="13px",
        text_color="#3a3a3a", text_align="center", text_baseline="middle", angle=[0, 0, 1.5708])

rs6 = []
p6_series = [[(V_85, LW)], [(V_876, LW)], [(V_902, LW), (V_902_band, 7)], [(V_928, LW), (V_928_band, 6)],
             [(V_954, LW), (V_954_band, 4)], [(V_98, LW), (V_98_band, 4)]]
for i, group in enumerate(p6_series):
    for j, (pairs, lw) in enumerate(group):
        xs, ys = xy(pairs)
        r = p6.line(xs, ys, line_color=colors[i], line_width=lw, line_join="round", line_cap="round")
        if j == 0:
            rs6.append(r)
add_legend(p6, rs6, (353, 250))

page = column(row(p1, p2, p3, spacing=0), row(p4, p5, p6, spacing=0), spacing=0)
open("out.html", "w").write(file_html(page, INLINE))
